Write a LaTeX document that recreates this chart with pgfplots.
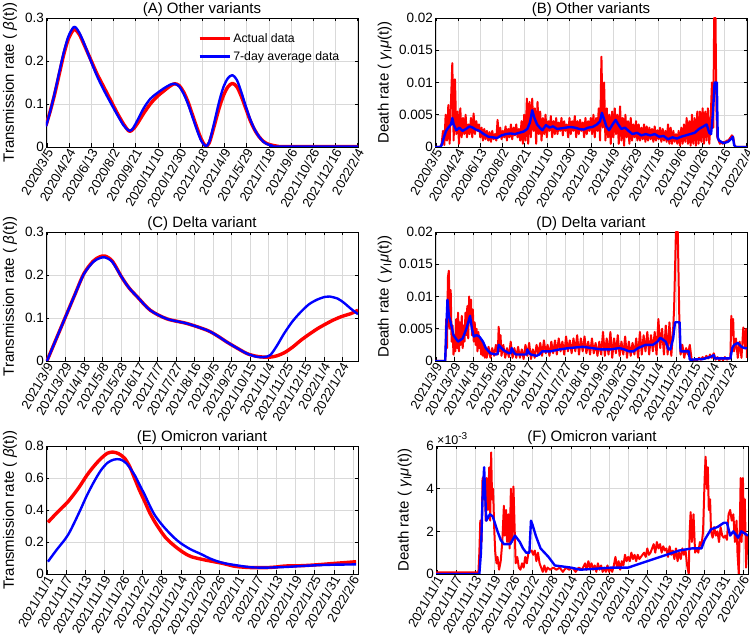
\documentclass[border=0pt]{standalone}
\usepackage{fontspec}
\setmainfont{Liberation Sans}
\usepackage{pgfplots}
\pgfplotsset{compat=1.18}
\pgfplotsset{
  every axis title/.style={at={(0.5,1)}, anchor=south, inner sep=1.5pt, font=\fontsize{15}{17}\selectfont},
  panel/.style={scale only axis, width=312pt, height=129pt, anchor=south west,
    grid=major, major grid style={black!15, line width=0.4pt},
    tick align=inside, axis line style={line width=0.5pt}, tick style={black, line width=0.5pt},
    major tick length=3.5pt,
    xticklabel style={rotate=60, anchor=east, font=\fontsize{13}{14}\selectfont, inner sep=0.5pt, yshift=-4pt, xshift=-0.5pt},
    yticklabel style={font=\fontsize{13.5}{15}\selectfont, inner sep=2pt},
    ylabel style={font=\fontsize{15}{17}\selectfont, anchor=center},
    /pgf/number format/assume math mode=true},
  xAB/.style={xmin=0, xmax=703, xtick={2,52,102,152,202,252,302,352,402,452,502,552,602,652,702},
    xticklabels={2020/3/5,2020/4/24,2020/6/13,2020/8/2,2020/9/21,2020/11/10,2020/12/30,2021/2/18,2021/4/9,2021/5/29,2021/7/18,2021/9/6,2021/10/26,2021/12/16,2022/2/4}},
  xCD/.style={xmin=0, xmax=338, xtick={1,21,41,61,81,101,121,141,161,181,201,221,241,261,281,301,321},
    xticklabels={2021/3/9,2021/3/29,2021/4/18,2021/5/8,2021/5/28,2021/6/17,2021/7/7,2021/7/27,2021/8/16,2021/9/5,2021/9/25,2021/10/15,2021/11/4,2021/11/25,2021/12/15,2022/1/4,2022/1/24}},
  xEF/.style={xmin=-0.3, xmax=97.6, xtick={0,6,12,18,24,30,36,42,48,54,60,66,72,78,84,90,96},
    xticklabels={2021/11/1,2021/11/7,2021/11/13,2021/11/19,2021/11/26,2021/12/2,2021/12/8,2021/12/14,2021/12/20,2021/12/26,2022/1/1,2022/1/7,2022/1/13,2022/1/19,2022/1/25,2022/1/31,2022/2/6}},
  trans/.style={ylabel={Transmission rate ( \textit{β}(t))}, ylabel style={at={(axis description cs:-0.115,0.5)}}},
  death/.style={ylabel={Death rate ( \textit{γ}\textsubscript{I}\textit{μ}(t))}, ymin=0, ymax=20, ytick={0,5,10,15,20}, yticklabels={0,0.005,0.01,0.015,0.02}},
  rthick/.style={color={rgb,1:red,1;green,0;blue,0}, line width=3.4pt, line join=round},
  bthick/.style={color={rgb,1:red,0;green,0;blue,1}, line width=2.4pt, line join=round},
  rnoise/.style={color={rgb,1:red,1;green,0;blue,0}, line width=2pt, line join=round},
  bnoise/.style={color={rgb,1:red,0;green,0;blue,1}, line width=2.4pt, line join=round},
}
\begin{document}
\begin{tikzpicture}
\useasboundingbox (0,0) rectangle (750pt,642pt);
% (A)
\begin{axis}[panel, xAB, trans, at={(46pt,495pt)}, title={(A) Other variants},
  ymin=0, ymax=0.3, ytick={0,0.1,0.2,0.3},
  legend style={at={(axis description cs:0.483,0.905)}, anchor=north west, draw=none, fill=none,
    font=\fontsize{12.3}{14}\selectfont, row sep=3.5pt, inner sep=1pt},
  legend cell align=left,
  legend image code/.code={\draw[#1] (0pt,0pt) -- (30pt,0pt);}]
\addplot[rthick, smooth] coordinates {(0,0.050) (10,0.085) (20,0.125) (30,0.170) (40,0.215) (50,0.250) (60,0.270) (66,0.273) (75,0.262) (85,0.240) (100,0.205) (115,0.170) (130,0.140) (145,0.110) (160,0.080) (175,0.053) (187,0.037) (195,0.040) (205,0.053) (220,0.078) (235,0.100) (250,0.117) (265,0.130) (280,0.142) (290,0.147) (300,0.143) (310,0.128) (320,0.105) (330,0.075) (340,0.045) (350,0.018) (360,0.002) (368,0.010) (378,0.045) (390,0.090) (400,0.120) (410,0.140) (420,0.148) (430,0.140) (440,0.118) (450,0.090) (460,0.062) (470,0.040) (480,0.024) (490,0.013) (500,0.007) (510,0.004) (520,0.002) (540,0.001) (703,0.001)};
\addlegendentry{Actual data}
\addplot[bthick, smooth] coordinates {(0,0.048) (10,0.085) (20,0.128) (30,0.175) (40,0.220) (50,0.256) (60,0.276) (66,0.279) (75,0.266) (85,0.243) (100,0.203) (115,0.165) (130,0.133) (145,0.104) (160,0.076) (175,0.050) (187,0.038) (195,0.042) (205,0.060) (220,0.090) (235,0.112) (250,0.125) (265,0.136) (280,0.145) (290,0.147) (300,0.141) (310,0.124) (320,0.100) (330,0.070) (340,0.040) (350,0.014) (360,0.002) (368,0.012) (378,0.052) (390,0.105) (400,0.140) (410,0.160) (420,0.167) (430,0.156) (440,0.128) (450,0.095) (460,0.065) (470,0.041) (480,0.024) (490,0.012) (500,0.006) (510,0.003) (520,0.001) (703,0.001)};
\addlegendentry{7-day average data}
\end{axis}
% (B)
\begin{axis}[panel, xAB, death, at={(435pt,495pt)}, title={(B) Other variants},
  ylabel style={at={(axis description cs:-0.161,0.5)}}]
\addplot[rnoise] coordinates {(0,0) (3,0) (6,0) (9,0) (12,0) (15,0.5) (18,2.5) (21,0.3) (24,5.0) (27,1.0) (30,6.5) (33,0.5) (36,7.0) (39,13.0) (42,1.0) (45,10.5) (48,2.0) (51,5.5) (54,0.5) (57,6.0) (60,1.5) (63,4.5) (66,2.0) (69,5.0) (72,1.5) (75,3.5) (78,2.0) (81,4.5) (84,1.5) (87,5.2) (90,2.0) (93,4.0) (96,2.5) (99,3.5) (102,1.5) (105,3.0) (108,1.0) (111,2.8) (114,1.2) (117,2.5) (120,1.0) (123,2.3) (126,0.8) (129,2.5) (132,1.2) (135,2.0) (138,1.0) (141,4.2) (144,1.5) (147,3.0) (150,1.2) (153,2.5) (156,1.5) (159,3.2) (162,1.0) (165,2.8) (168,1.5) (171,3.5) (174,1.2) (177,3.0) (180,1.8) (183,3.5) (186,1.5) (189,2.8) (192,1.0) (195,4.0) (198,0.5) (201,5.0) (204,1.0) (207,7.5) (210,0.5) (213,7.0) (216,1.5) (219,7.5) (222,2.5) (225,6.0) (228,0.5) (231,7.0) (234,2.0) (237,5.5) (240,1.0) (243,4.5) (246,2.0) (249,5.0) (252,1.5) (255,4.0) (258,2.5) (261,4.8) (264,1.5) (267,4.0) (270,2.0) (273,4.5) (276,2.0) (279,3.8) (282,2.5) (285,4.5) (288,1.8) (291,4.0) (294,2.5) (297,3.5) (300,1.5) (303,4.5) (306,2.0) (309,4.0) (312,2.5) (315,4.8) (318,1.5) (321,4.0) (324,2.0) (327,4.2) (330,2.5) (333,3.8) (336,1.5) (339,4.5) (342,2.0) (345,4.0) (348,2.5) (351,4.5) (354,2.0) (357,5.0) (360,1.5) (363,4.5) (366,2.5) (369,6.0) (372,1.0) (375,14.0) (378,3.0) (381,10.0) (384,1.0) (387,6.0) (390,1.5) (393,5.0) (396,0.5) (399,5.5) (402,1.5) (405,6.0) (408,2.0) (411,5.0) (414,0.5) (417,6.3) (420,1.0) (423,4.5) (426,0.2) (429,5.0) (432,1.5) (435,4.0) (438,0.5) (441,4.5) (444,1.0) (447,3.5) (450,1.5) (453,4.0) (456,1.0) (459,3.5) (462,1.0) (465,3.0) (468,1.2) (471,3.5) (474,0.8) (477,3.2) (480,1.0) (483,3.0) (486,1.2) (489,2.8) (492,0.8) (495,3.2) (498,1.0) (501,2.6) (504,1.2) (507,3.0) (510,0.8) (513,2.8) (516,1.0) (519,2.5) (522,0.8) (525,3.5) (528,0.5) (531,3.0) (534,0.5) (537,2.5) (540,0.8) (543,2.0) (546,0.5) (549,2.5) (552,0.2) (555,3.0) (558,0.5) (561,3.5) (564,0.8) (567,4.5) (570,0.5) (573,4.0) (576,0.2) (579,5.0) (582,0.5) (585,4.5) (588,0.2) (591,5.5) (594,0.5) (597,5.5) (600,0.8) (603,6.0) (606,0.5) (609,5.5) (612,1.0) (615,6.0) (618,0.5) (621,4.0) (624,10.0) (627,3.0) (629,20.0) (632,20.0) (634,6.0) (636,1.5) (639,1.0) (642,0.5) (645,0.8) (648,0.5) (651,0.8) (654,0.6) (657,1.0) (660,1.0) (663,1.2) (666,1.5) (669,1.8) (672,1.5) (675,0.2) (678,0) (703,0)};
\addplot[bnoise] coordinates {(0,0) (12,0) (15,0.3) (20,1.5) (25,2.5) (30,3.0) (36,3.5) (39,4.5) (42,3.5) (48,2.6) (55,3.0) (62,2.5) (70,2.8) (78,3.2) (85,3.0) (92,2.7) (100,2.5) (110,2.0) (120,1.6) (130,1.5) (140,1.4) (150,1.8) (160,2.0) (170,2.1) (180,2.0) (190,2.2) (200,2.4) (208,2.8) (214,3.8) (219,5.7) (224,4.5) (230,3.5) (236,3.0) (242,2.6) (250,3.4) (258,3.0) (266,3.2) (275,2.8) (285,2.9) (295,3.0) (305,3.1) (315,3.0) (325,2.8) (335,2.7) (345,3.0) (355,3.1) (365,3.5) (372,4.0) (376,5.3) (380,4.5) (386,3.2) (392,2.6) (400,3.5) (407,4.2) (413,3.5) (420,2.8) (428,3.0) (436,2.5) (445,2.0) (455,2.2) (465,1.8) (475,2.0) (485,1.8) (495,2.0) (505,1.6) (515,1.7) (525,1.2) (535,1.5) (545,1.3) (555,1.6) (565,1.8) (575,2.0) (585,2.2) (595,2.8) (605,3.2) (612,3.5) (618,2.2) (622,2.0) (626,5.0) (630,10.0) (635,10.0) (637,1.5) (640,1.0) (650,0.6) (660,0.8) (668,1.3) (671,1.6) (674,0.3) (678,0) (703,0)};
\end{axis}
% (C)
\begin{axis}[panel, xCD, trans, at={(46pt,281pt)}, title={(C) Delta variant},
  ymin=0, ymax=0.3, ytick={0,0.1,0.2,0.3}]
\addplot[rthick, smooth] coordinates {(1,0) (11,0.051) (21,0.102) (31,0.153) (41,0.203) (51,0.232) (58,0.242) (64,0.244) (72,0.232) (82,0.195) (90,0.170) (99,0.149) (113,0.118) (131,0.098) (153,0.087) (175,0.071) (186,0.058) (196,0.044) (207,0.030) (218,0.017) (228,0.011) (236,0.009) (243,0.009) (250,0.012) (258,0.019) (267,0.032) (276,0.048) (285,0.062) (294,0.075) (303,0.086) (312,0.096) (321,0.104) (330,0.110) (338,0.118)};
\addplot[bthick, smooth] coordinates {(1,0) (11,0.051) (21,0.102) (31,0.153) (41,0.202) (51,0.230) (58,0.239) (64,0.241) (72,0.230) (82,0.195) (90,0.170) (99,0.149) (113,0.118) (131,0.098) (153,0.087) (175,0.071) (186,0.058) (196,0.044) (207,0.030) (218,0.017) (228,0.010) (236,0.009) (243,0.014) (250,0.035) (258,0.064) (267,0.092) (276,0.114) (285,0.132) (294,0.143) (302,0.149) (307,0.150) (316,0.145) (323,0.135) (330,0.122) (338,0.109)};
\end{axis}
% (D)
\begin{axis}[panel, xCD, death, at={(435pt,281pt)}, title={(D) Delta variant},
  ylabel style={at={(axis description cs:-0.161,0.5)}}]
\addplot[rnoise] coordinates {(0,0) (11,0) (11.5,1.0) (12,6.5) (13,2.0) (14,13.0) (15,14.0) (16,5.0) (17,11.0) (18,3.0) (19,5.5) (20,1.0) (21,4.0) (22,1.5) (23,6.5) (24,2.0) (25,7.5) (26,1.5) (27,6.0) (28,2.5) (29,7.0) (30,2.0) (31,5.5) (32,3.0) (33,7.5) (34,4.0) (35,8.5) (36,3.5) (37,10.0) (38,6.0) (39,9.5) (40,4.0) (41,8.0) (42,3.0) (43,6.0) (44,2.5) (45,5.0) (46,1.5) (47,4.5) (48,2.0) (49,3.5) (50,1.0) (51,3.0) (52,0.8) (53,2.5) (54,0.5) (55,2.0) (56,0.5) (58,2.2) (60,0.5) (62,2.0) (64,0.8) (66,2.5) (68,1.0) (69,5.3) (70,1.5) (71,4.0) (72,0.8) (74,2.5) (76,0.5) (78,2.0) (80,0.6) (82,3.0) (84,0.5) (86,2.0) (88,0.5) (90,2.2) (92,0.5) (94,1.8) (96,0.3) (98,2.5) (100,0.8) (102,2.8) (104,0.3) (106,1.8) (108,0.5) (110,2.5) (112,1.0) (114,2.8) (116,0.8) (118,3.2) (120,1.2) (122,2.5) (124,0.8) (126,3.0) (128,1.2) (130,3.2) (132,1.0) (134,3.5) (136,1.5) (138,3.0) (140,1.0) (142,3.8) (144,1.5) (146,3.2) (148,1.2) (150,3.5) (152,1.5) (154,4.0) (156,1.0) (158,3.5) (160,1.5) (162,3.8) (164,1.2) (166,3.0) (168,1.0) (170,3.5) (172,1.2) (174,2.8) (176,0.8) (178,3.0) (180,1.0) (182,4.5) (184,0.8) (186,3.5) (188,1.0) (190,4.5) (192,0.5) (194,3.5) (196,1.2) (198,4.0) (200,0.8) (202,3.0) (204,1.0) (206,3.8) (208,0.5) (210,3.0) (212,0.8) (214,2.8) (216,1.0) (218,3.5) (220,0.5) (222,4.5) (224,1.0) (226,4.0) (228,1.5) (230,4.5) (232,1.0) (234,4.0) (236,1.5) (238,4.5) (240,1.0) (242,6.5) (244,2.0) (246,5.0) (248,1.0) (250,5.5) (252,1.0) (254,6.0) (256,0.8) (258,5.0) (259,8.0) (260,14.0) (261,20.0) (263,20.0) (264,12.0) (265,4.0) (266,1.0) (268,2.5) (270,0.5) (272,2.0) (274,1.0) (276,2.5) (278,0.3) (280,0.0) (282,0.3) (284,0.1) (286,0.5) (288,0.2) (290,0.6) (292,0.3) (294,0.8) (296,0.4) (298,1.0) (300,0.5) (302,1.2) (304,0.2) (306,0.6) (308,0.1) (310,0.5) (312,0.1) (314,0.6) (316,0.2) (318,0.4) (320,0.5) (321,7.0) (322,4.0) (323,6.5) (324,1.5) (326,3.5) (328,0.5) (330,3.0) (332,0.5) (334,5.2) (336,2.0) (337,5.0) (338,0.5)};
\addplot[bnoise] coordinates {(0,0) (11,0) (12,4.0) (13.5,9.5) (15,7.0) (17,6.0) (20,4.0) (25,3.0) (30,3.5) (34,5.0) (36,6.0) (38,7.0) (40,5.0) (42,3.8) (45,4.0) (48,3.8) (52,3.0) (55,2.0) (60,1.2) (66,1.0) (68,1.2) (69,2.5) (72,2.0) (74,1.7) (80,1.2) (82,1.2) (83,2.0) (86,1.2) (88,1.0) (96,1.0) (99,1.0) (100,1.8) (102,1.2) (104,1.0) (110,0.8) (113,1.0) (116,1.5) (125,1.5) (135,1.8) (145,2.0) (160,2.2) (170,2.0) (180,1.8) (190,1.8) (200,2.0) (205,1.8) (210,1.5) (215,1.5) (220,2.0) (228,2.5) (236,2.5) (241,3.0) (244,3.6) (248,3.2) (250,3.0) (253,1.8) (255,1.8) (258,3.5) (260,6.0) (265,6.0) (266,1.5) (275,1.5) (276,0.2) (290,0.3) (298,0.6) (302,0.9) (303,0.4) (320,0.4) (322,2.0) (324,2.5) (328,2.8) (332,2.2) (335,2.0) (338,2.0)};
\end{axis}
% (E)
\begin{axis}[panel, xEF, trans, at={(46pt,68pt)}, height=128pt, title={(E) Omicron variant},
  ymin=0, ymax=0.8, ytick={0,0.2,0.4,0.6,0.8}]
\addplot[rthick, smooth] coordinates {(0.3,0.323) (3,0.380) (6.6,0.452) (10,0.540) (12.6,0.619) (15,0.680) (17,0.723) (19,0.755) (20.7,0.762) (22.5,0.752) (24.4,0.723) (26,0.670) (27.5,0.598) (29,0.525) (30.7,0.452) (32.2,0.385) (33.8,0.327) (35.5,0.275) (37,0.233) (39,0.193) (41,0.160) (43,0.132) (45.3,0.108) (49.5,0.088) (55,0.067) (59,0.048) (64,0.040) (69,0.040) (72,0.044) (74.7,0.050) (80,0.052) (85,0.058) (90,0.066) (94,0.072) (97,0.077)};
\addplot[bthick, smooth] coordinates {(0.3,0.077) (3,0.150) (6.6,0.244) (10,0.380) (12.6,0.494) (15,0.585) (17,0.650) (19,0.695) (21,0.715) (23,0.716) (25,0.690) (27.5,0.619) (29,0.560) (30.7,0.494) (32.2,0.430) (33.8,0.369) (36,0.310) (38,0.265) (40,0.225) (42,0.192) (45,0.155) (48.5,0.123) (51,0.098) (53.7,0.078) (56,0.066) (59,0.056) (64,0.042) (69,0.040) (75,0.044) (80,0.050) (85,0.055) (90,0.058) (97,0.060)};
\end{axis}
% (F)
\begin{axis}[panel, xEF, at={(436pt,68pt)}, height=128pt, title={(F) Omicron variant},
  ylabel={Death rate ( \textit{γ}\textsubscript{I}\textit{μ}(t))},
  ylabel style={at={(axis description cs:-0.1,0.5)}},
  ymin=0, ymax=6, ytick={0,2,4,6},
  extra description/.code={\node[anchor=south west, inner sep=1pt] at (0,1) {\fontsize{12.5}{14}\selectfont ×10\raisebox{0.45em}{\fontsize{10}{12}\selectfont -3}};}]
\addplot[rnoise] coordinates {(-0.3,0.08) (13,0.08) (13.3,1.0) (13.6,2.5) (14.0,1.5) (14.3,4.5) (14.6,3.5) (15.0,4.4) (15.3,2.5) (15.6,4.5) (16.0,3.0) (16.4,5.0) (16.7,2.5) (17.0,5.7) (17.3,3.5) (17.6,4.0) (18.0,2.0) (18.3,1.0) (18.7,0.5) (19.0,0.8) (19.5,0.2) (20.0,0.6) (20.5,1.5) (21.0,3.2) (21.3,1.8) (21.7,3.0) (22.0,1.5) (22.4,2.8) (22.8,1.2) (23.2,4.0) (23.6,1.5) (24.0,4.1) (24.4,2.0) (24.7,0.5) (25.2,0.8) (25.7,0.3) (26.2,0.2) (26.7,0.5) (27.2,0.3) (27.7,0.8) (28.2,0.5) (28.7,1.0) (29.2,1.1) (29.7,1.1) (30.2,0.9) (30.7,1.1) (31.2,0.6) (31.7,1.0) (32.2,0.5) (32.7,0.3) (33.2,0.1) (33.7,0.4) (34.2,0.1) (34.7,0.3) (35.5,0.2) (36.5,0.3) (37.5,0.2) (38.5,0.3) (39.5,0.1) (40.5,0.3) (41.5,0.2) (42.5,0.3) (43.5,0.1) (44.5,0.3) (45.5,0.2) (46.5,0.5) (47.0,0.2) (47.5,0.6) (48.0,0.3) (48.5,0.5) (49.0,0.2) (49.5,0.4) (50.0,0.1) (50.5,0.5) (51.0,0.2) (51.5,0.4) (52.0,0.1) (52.5,0.3) (53.0,0.1) (53.5,0.4) (54.0,0.1) (54.5,0.3) (55.0,0.1) (55.5,0.4) (56.0,0.8) (56.5,0.3) (57.0,0.6) (57.5,0.2) (58.0,0.6) (58.5,0.4) (59.0,0.9) (59.5,0.6) (60.0,0.8) (60.5,0.6) (61.0,1.0) (61.5,0.7) (62.0,0.9) (62.5,0.6) (63.0,0.9) (63.5,0.7) (64.0,0.8) (64.5,0.9) (65.0,1.0) (65.5,0.8) (66.0,1.2) (66.5,0.9) (67.0,1.0) (67.5,1.2) (68.0,1.4) (68.5,1.0) (69.0,1.5) (69.5,1.2) (70.0,1.4) (70.5,1.0) (71.0,1.3) (71.5,1.1) (72.0,1.2) (72.5,0.8) (73.0,1.3) (73.5,0.9) (74.0,1.1) (74.5,0.7) (75.0,1.2) (75.5,0.6) (76.0,1.0) (76.5,0.7) (77.0,1.2) (77.5,0.9) (78.0,1.1) (78.5,0.4) (79.0,0.0) (79.3,2.0) (79.6,2.9) (80.0,1.5) (80.5,2.8) (81.0,1.0) (81.5,1.2) (82.0,1.0) (82.5,1.5) (83.0,1.3) (83.5,2.0) (84.0,4.5) (84.3,5.5) (84.7,4.0) (85.0,5.0) (85.3,3.0) (85.7,3.5) (86.0,2.0) (86.5,1.7) (87.0,2.2) (87.5,1.8) (88.0,2.0) (88.5,1.5) (89.0,2.2) (89.5,1.8) (90.0,1.7) (90.5,1.8) (91.0,1.6) (91.5,2.8) (92.0,3.0) (92.5,2.5) (93.0,2.8) (93.5,1.5) (94.0,2.5) (94.3,1.0) (94.7,0.0) (95.0,2.0) (95.3,4.5) (95.6,1.5) (96.0,4.5) (96.3,2.0) (96.6,3.5) (97.0,0.3) (97.5,1.8)};
\addplot[bnoise] coordinates {(-0.3,0) (13.3,0) (13.8,1.0) (14.3,3.5) (14.8,5.0) (15.2,3.5) (15.5,2.5) (16.6,2.8) (17.5,2.7) (19,2.0) (20,1.6) (21,1.4) (23,1.4) (24.5,1.8) (26,1.5) (27,1.2) (28,1.0) (29,1.0) (29.5,2.5) (30,2.3) (31,1.8) (32.5,1.2) (35,0.8) (37,0.4) (42,0.3) (45,0.2) (50,0.25) (55,0.3) (60,0.3) (64,0.5) (68,0.7) (72,0.9) (76,1.1) (80,1.2) (83,1.2) (84,1.6) (86,2.1) (88,2.2) (90,2.4) (91,2.4) (92,1.8) (93,2.0) (94.5,1.7) (95.5,2.0) (97.6,1.8)};
\end{axis}
\end{tikzpicture}
\end{document}
